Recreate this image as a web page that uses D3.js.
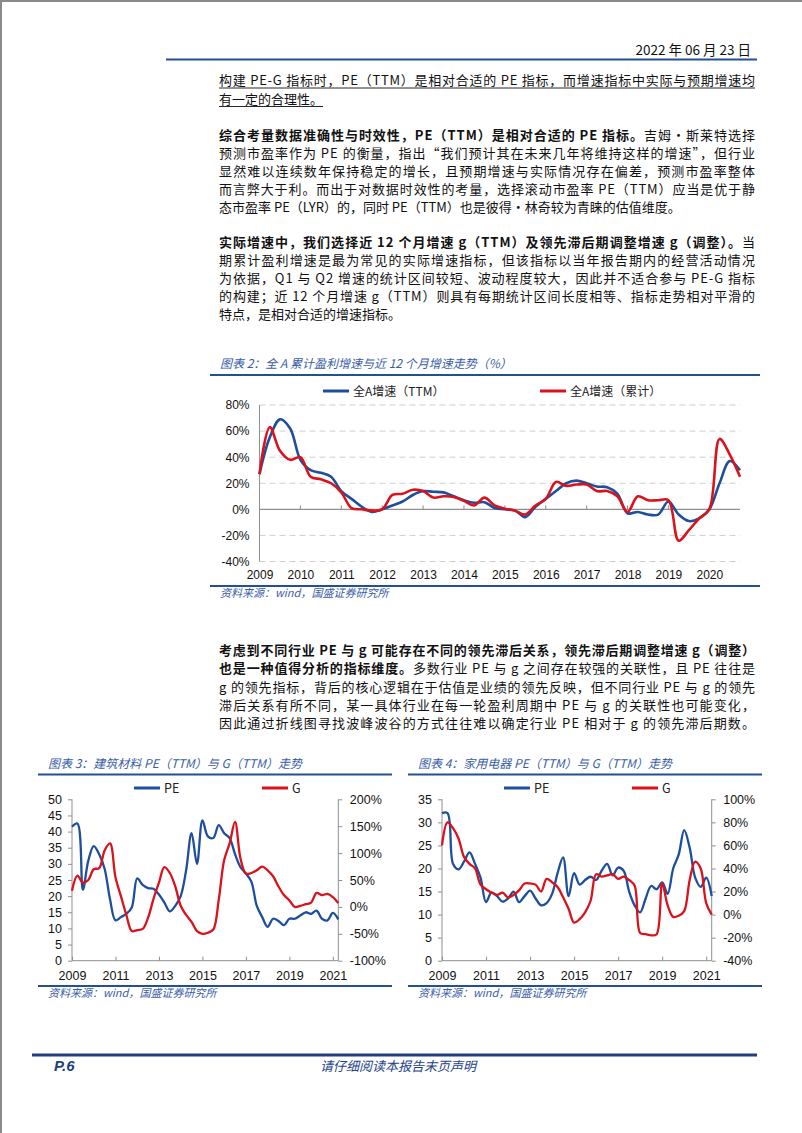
<!DOCTYPE html>
<html><head><meta charset="utf-8">
<script src="https://cdn.jsdelivr.net/npm/d3@7/dist/d3.min.js"></script>
<style>html,body{margin:0;padding:0;background:#fff;}svg{display:block;}</style>
</head><body><div id="page"></div>
<script>
// ---------------- DATA ----------------
const quarterNames = ["Q1","Q2","Q3","Q4"];
const years2 = [2009,2010,2011,2012,2013,2014,2015,2016,2017,2018,2019,2020];
const yearTicks2 = ["2009","2010","2011","2012","2013","2014","2015","2016","2017","2018","2019","2020"];
const categories2 = years2.flatMap(y => quarterNames.map(q => y + q));
const ttmGrowth = [27,55,69,62, 38,30,28,25, 14,8,2,-2, 0,3,6,11, 14,13.5,13,10, 7,5,5.5,1,
                   0,-1,-6,2, 8,14,20,22, 20,17.5,17,12, -3,-2,-4,-4, 6,-4,-9,-7, 0,20,37,30];
const cumGrowth = [27,63,45,38, 40,25,23,20, 13,1,0,-1, 0,11,12,15, 14,9,10,9.5, 6.5,3,9,3,
                   0.5,-1,-4,3, 8,21,18,19, 19,14,14,10, -2,10,7,7, 7,-24,-16,-7, 0,54,42,25];
const yTicks2 = [-40,-20,0,20,40,60,80];

const years34 = [2009,2010,2011,2012,2013,2014,2015,2016,2017,2018,2019,2020,2021];
const categories34 = years34.flatMap(y => quarterNames.map(q => y + q)).slice(0, 50);
const xTicks34 = ["2009","2011","2013","2015","2017","2019","2021"];
const pe3 = [41.5,42.5,22,31, 35.5,33,28.5,19, 12.5,13.5,14.5,16.5, 25.5,23.5,22.5,22.3,
             20.5,18,15.3,17, 20,28,39.5,30, 43.5,38.5,38,42, 39.5,38,33,29,
             27,24.5,17,13.5, 10.5,13,12.3,11, 13,13,14,15, 14.5,15.5,13,12.5, 14.8,12.8];
const g3 = [30,58,45,50, 70,72,105,118, 55,20,-15,-45, -43,-41,-20,15, 45,74,63,38,
            2,-15,-28,-45, -50,-48,-42,13, 87,118,158,90, 62,63,68,75, 68,57,38,22,
            12,0,2,5, 8,26,22,24, 18,7];
const yLeft3 = [0,5,10,15,20,25,30,35,40,45,50];
const yRight3 = [-100,-50,0,50,100,150,200];
const pe4 = [32,32,21,19.8, 21.5,23.5,21,18, 12.7,14.8,14,12.8, 13.5,15,12.7,14,
             15.2,13.5,12,12.5, 14.5,19,22.4,14, 19,16.5,17.5,18.2, 17.5,19.5,21,18.5,
             20.2,19.5,15,12, 10.5,13.5,16.2,15.5, 17,14.5,20,23, 28.3,24.5,18,16, 18,14];
const g4 = [60,80,75,66, 50,44,40,26, 22,19,17,19, 15,17,21,27, 27,26,20,31,
            28,24,15,5, -7,-4,2,12, 35,33,34,35, 31,33,30,25, -16,-17,-18,-17,
            27,8,-2,-1, 3,30,46,40, 10,0];
const yLeft4 = [0,5,10,15,20,25,30,35];
const yRight4 = [-40,-20,0,20,40,60,80,100];

// text content
const para1 = [
  [["构建 PE-G 指标时，PE（TTM）是相对合适的 PE 指标，而增速指标中实际与预期增速均",0]],
  [["有一定的合理性。",0]]
];
const para2 = [
  [["综合考量数据准确性与时效性，PE（TTM）是相对合适的 PE 指标。",1],["吉姆·斯莱特选择",0]],
  [["预测市盈率作为 PE 的衡量，指出“我们预计其在未来几年将维持这样的增速”，但行业",0]],
  [["显然难以连续数年保持稳定的增长，且预期增速与实际情况存在偏差，预测市盈率整体",0]],
  [["而言弊大于利。而出于对数据时效性的考量，选择滚动市盈率 PE（TTM）应当是优于静",0]],
  [["态市盈率 PE（LYR）的，同时 PE（TTM）也是彼得·林奇较为青睐的估值维度。",0]]
];
const para3 = [
  [["实际增速中，我们选择近 12 个月增速 g（TTM）及领先滞后期调整增速 g（调整）。",1],["当",0]],
  [["期累计盈利增速是最为常见的实际增速指标，但该指标以当年报告期内的经营活动情况",0]],
  [["为依据，Q1 与 Q2 增速的统计区间较短、波动程度较大，因此并不适合参与 PE-G 指标",0]],
  [["的构建；近 12 个月增速 g（TTM）则具有每期统计区间长度相等、指标走势相对平滑的",0]],
  [["特点，是相对合适的增速指标。",0]]
];
const para4 = [
  [["考虑到不同行业 PE 与 g 可能存在不同的领先滞后关系，领先滞后期调整增速 g（调整）",1]],
  [["也是一种值得分析的指标维度。",1],["多数行业 PE 与 g 之间存在较强的关联性，且 PE 往往是",0]],
  [["g 的领先指标，背后的核心逻辑在于估值是业绩的领先反映，但不同行业 PE 与 g 的领先",0]],
  [["滞后关系有所不同，某一具体行业在每一轮盈利周期中 PE 与 g 的关联性也可能变化，",0]],
  [["因此通过折线图寻找波峰波谷的方式往往难以确定行业 PE 相对于 g 的领先滞后期数。",0]]
];

// ---------------- STYLE ----------------
const CJK = "'Noto Sans CJK SC','Noto Sans CJK',sans-serif";
const LAT = "'Liberation Sans',Arial,sans-serif";
const BLUE = "#1d4f9c", RED = "#d9121c", FRAME = "#23508f", TITLE = "#3a5da6";
const AXIS = "#8f8f8f", GRID = "#cfcfcf";

const svg = d3.select("#page").append("svg").attr("width",802).attr("height",1133);
svg.append("rect").attr("width",802).attr("height",1133).attr("fill","#fff");
svg.append("line").attr("x1",0).attr("x2",802).attr("y1",1).attr("y2",1).attr("stroke","#8a8a8a").attr("stroke-width",2);
svg.append("line").attr("x1",1).attr("x2",1).attr("y1",0).attr("y2",1133).attr("stroke","#8a8a8a").attr("stroke-width",2);

// header
svg.append("text").attr("x",751).attr("y",55).attr("text-anchor","end")
  .attr("font-family",CJK).attr("font-size",13.5).attr("fill","#111").text("2022 年 06 月 23 日");
svg.append("line").attr("x1",166).attr("x2",757).attr("y1",59.5).attr("y2",59.5).attr("stroke",FRAME).attr("stroke-width",2);

// paragraphs
const TX = 219, TW = 536;
function drawPara(lines, y0, step, justifyLast, underline) {
  lines.forEach((segs, i) => {
    const t = svg.append("text").attr("x",TX).attr("y",y0 + i*step)
      .attr("font-family",CJK).attr("font-size",13).attr("fill","#111");
    segs.forEach(s => t.append("tspan").attr("font-weight", s[1] ? "bold" : "normal").text(s[0]));
    const last = i === lines.length - 1;
    if (!last || justifyLast) t.attr("textLength",TW).attr("lengthAdjust","spacing");
    if (underline) {
      const w = (!last || justifyLast) ? TW : t.node().getComputedTextLength();
      svg.append("line").attr("x1",TX).attr("x2",TX + w).attr("y1",y0 + i*step + 3).attr("y2",y0 + i*step + 3)
        .attr("stroke","#111").attr("stroke-width",0.9);
    }
  });
}
drawPara(para1, 85, 18.5, false, true);
drawPara(para2, 140, 18, false, false);
drawPara(para3, 247, 18, false, false);
drawPara(para4, 655, 18.3, true, false);

// ---------- helpers ----------
function frame(x1, x2, titleY, lineY, bottomY, title) {
  svg.append("text").attr("x",x1 + 10).attr("y",titleY).attr("font-family",CJK).attr("font-size",12)
    .attr("font-style","italic").attr("fill",TITLE).text(title);
  svg.append("line").attr("x1",x1).attr("x2",x2).attr("y1",lineY).attr("y2",lineY).attr("stroke",FRAME).attr("stroke-width",2);
  svg.append("line").attr("x1",x1).attr("x2",x2).attr("y1",bottomY).attr("y2",bottomY).attr("stroke",FRAME).attr("stroke-width",2);
  svg.append("text").attr("x",x1 + 10).attr("y",bottomY + 11).attr("font-family",CJK).attr("font-size",11)
    .attr("font-style","italic").attr("fill",TITLE).text("资料来源：wind，国盛证券研究所");
}
function legendItem(x, y, color, label, fs) {
  svg.append("line").attr("x1",x).attr("x2",x + 26).attr("y1",y).attr("y2",y).attr("stroke",color).attr("stroke-width",3);
  svg.append("text").attr("x",x + 30).attr("y",y + 4.5).attr("font-family",CJK).attr("font-size",fs).attr("fill","#222").text(label);
}
function catToYear(c) { return +c.slice(0,4) + (quarterNames.indexOf(c.slice(4)))*0.25; }
function styleAxis(g, fs) {
  g.select(".domain").remove();
  g.selectAll("text").attr("font-family",LAT).attr("font-size",fs).attr("fill","#111");
  g.selectAll(".tick line").attr("stroke",AXIS);
}

// ---------------- CHART 2 ----------------
frame(210, 760, 367.5, 375, 586, "图表 2：全 A 累计盈利增速与近 12 个月增速走势（%）");
legendItem(323, 391, BLUE, "全A增速（TTM）", 12);
legendItem(540, 391, RED, "全A增速（累计）", 12);
const x2 = d3.scaleLinear().domain([2009, 2020.75]).range([259.5, 740]);
const y2 = d3.scaleLinear().domain([-40, 80]).range([561.5, 405]);
svg.append("g").selectAll("line").data(yTicks2.filter(d => d !== 0)).join("line")
  .attr("x1",259.5).attr("x2",740).attr("y1",d => y2(d)).attr("y2",d => y2(d))
  .attr("stroke",GRID).attr("stroke-width",1).attr("stroke-dasharray","6,4");
const gy2 = svg.append("g").attr("transform","translate(259.5,0)")
  .call(d3.axisLeft(y2).tickValues(yTicks2).tickFormat(d => d + "%").tickSize(0).tickPadding(10));
styleAxis(gy2, 12);
svg.append("line").attr("x1",259.5).attr("x2",259.5).attr("y1",y2(80)).attr("y2",y2(-40)).attr("stroke",AXIS);
svg.append("line").attr("x1",259.5).attr("x2",740).attr("y1",y2(0)).attr("y2",y2(0)).attr("stroke",AXIS).attr("stroke-width",1.2);
svg.append("g").selectAll("line").data(years2.slice(1)).join("line")
  .attr("x1",d => x2(d)).attr("x2",d => x2(d)).attr("y1",y2(0) - 4).attr("y2",y2(0)).attr("stroke",AXIS);
const gx2 = svg.append("g").attr("transform",`translate(0,${y2(-40)})`)
  .call(d3.axisBottom(x2).tickValues(years2).tickFormat((d,i) => yearTicks2[i]).tickSize(0).tickPadding(9));
styleAxis(gx2, 12);
const line2 = d3.line().x((d,i) => x2(catToYear(categories2[i]))).y(d => y2(d)).curve(d3.curveCatmullRom.alpha(0.5));
svg.append("path").attr("d",line2(ttmGrowth)).attr("fill","none").attr("stroke",BLUE).attr("stroke-width",2.6);
svg.append("path").attr("d",line2(cumGrowth)).attr("fill","none").attr("stroke",RED).attr("stroke-width",2.6);

// ---------------- CHARTS 3 & 4 ----------------
function dualChart(o) {
  frame(o.fx1, o.fx2, 767.5, 774.5, 986, o.title);
  legendItem(o.lx1, 788, BLUE, "PE", 12.5);
  legendItem(o.lx2, 788, RED, "G", 12.5);
  const x = d3.scaleLinear().domain([2009, 2021.25]).range([o.xl, o.xr]);
  const yl = d3.scaleLinear().domain(o.ldom).range([960.7, 799.3]);
  const yr = d3.scaleLinear().domain(o.rdom).range([960.7, 799.3]);
  const gl = svg.append("g").attr("transform",`translate(${o.xl},0)`)
    .call(d3.axisLeft(yl).tickValues(o.lt).tickSize(4).tickPadding(6));
  styleAxis(gl, 12.5);
  const gr = svg.append("g").attr("transform",`translate(${o.xr},0)`)
    .call(d3.axisRight(yr).tickValues(o.rt).tickFormat(d => d + "%").tickSize(4).tickPadding(7.5));
  styleAxis(gr, 12.5);
  const gb = svg.append("g").attr("transform","translate(0,960.7)")
    .call(d3.axisBottom(x).tickValues(xTicks34.map(Number)).tickFormat((d,i) => xTicks34[i]).tickSizeInner(-4).tickSizeOuter(0).tickPadding(10));
  styleAxis(gb, 12.5);
  svg.append("line").attr("x1",o.xl).attr("x2",o.xl).attr("y1",799.3).attr("y2",960.7).attr("stroke",AXIS);
  svg.append("line").attr("x1",o.xr).attr("x2",o.xr).attr("y1",799.3).attr("y2",960.7).attr("stroke",AXIS);
  svg.append("line").attr("x1",o.xl).attr("x2",o.xr).attr("y1",960.7).attr("y2",960.7).attr("stroke",AXIS);
  const xs = (d,i) => x(catToYear(categories34[i]));
  svg.append("path").attr("d", d3.line().x(xs).y(d => yl(d)).curve(d3.curveCatmullRom.alpha(0.5))(o.pe))
    .attr("fill","none").attr("stroke",BLUE).attr("stroke-width",2.3);
  svg.append("path").attr("d", d3.line().x(xs).y(d => yr(d)).curve(d3.curveCatmullRom.alpha(0.5))(o.g))
    .attr("fill","none").attr("stroke",RED).attr("stroke-width",2.3);
}
dualChart({fx1:38, fx2:392, title:"图表 3：建筑材料 PE（TTM）与 G（TTM）走势", lx1:134, lx2:262,
  xl:72, xr:338.3, ldom:[0,50], rdom:[-100,200], lt:yLeft3, rt:yRight3, pe:pe3, g:g3});
dualChart({fx1:408, fx2:762, title:"图表 4：家用电器 PE（TTM）与 G（TTM）走势", lx1:504, lx2:632,
  xl:442, xr:711.7, ldom:[0,35], rdom:[-40,100], lt:yLeft4, rt:yRight4, pe:pe4, g:g4});

// footer
svg.append("line").attr("x1",32).attr("x2",757).attr("y1",1055).attr("y2",1055).attr("stroke","#1f3f7a").attr("stroke-width",3);
svg.append("text").attr("x",54).attr("y",1071).attr("font-family",LAT).attr("font-size",15).attr("font-weight","bold")
  .attr("font-style","italic").attr("fill","#1f3f7a").text("P.6");
svg.append("text").attr("x",398).attr("y",1071).attr("text-anchor","middle").attr("font-family",CJK).attr("font-size",13)
  .attr("font-style","italic").attr("fill","#24448a").text("请仔细阅读本报告末页声明");
</script></body></html>
